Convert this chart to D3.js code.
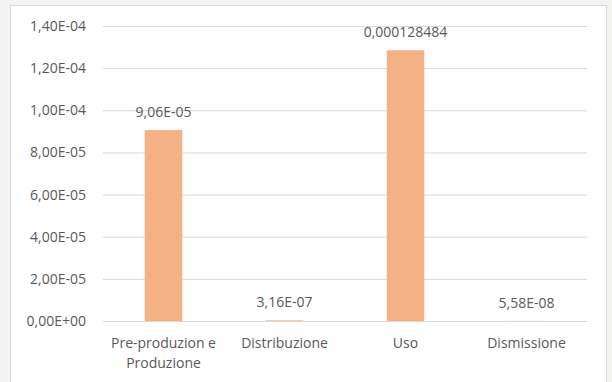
<!DOCTYPE html>
<html>
<head>
<meta charset="utf-8">
<script src="https://cdn.jsdelivr.net/npm/d3@7"></script>
<style>
  html, body { margin: 0; padding: 0; background: #f4f4f2; }
  svg { display: block; }
</style>
</head>
<body>
<svg id="chart" width="612" height="382"></svg>
<script>
// Phases of the life cycle and their values
const categories = [["Pre-produzion e", "Produzione"], ["Distribuzione"], ["Uso"], ["Dismissione"]];
const values = [9.06e-5, 3.16e-7, 0.000128484, 5.58e-8];
const valueLabels = ["9,06E-05", "3,16E-07", "0,000128484", "5,58E-08"];
const yTicks = [0, 2e-5, 4e-5, 6e-5, 8e-5, 1e-4, 1.2e-4, 1.4e-4];

const svg = d3.select("#chart");
const font = "'Open Sans', sans-serif";
const textColor = "#595959";

// chart frame
svg.append("rect")
  .attr("x", 10.5).attr("y", 5.5)
  .attr("width", 596).attr("height", 390)
  .attr("fill", "#ffffff").attr("stroke", "#d9d9d9");

const plot = { left: 103, right: 587, top: 26, bottom: 321 };

const x = d3.scaleBand()
  .domain(d3.range(categories.length))
  .range([plot.left, plot.right])
  .paddingInner(0.69).paddingOuter(0.345);

const y = d3.scaleLinear().domain([0, 1.4e-4]).range([plot.bottom, plot.top]);

const fmtTick = d => d === 0 ? "0,00E+00" : d3.format(".2e")(d)
  .replace(".", ",")
  .replace(/e([+-])(\d)$/, "e$10$2")
  .replace("e", "E");

// horizontal gridlines and tick labels
const yAxis = d3.axisLeft(y).tickValues(yTicks).tickFormat(fmtTick)
  .tickSize(-(plot.right - plot.left)).tickPadding(17);
const gy = svg.append("g").attr("transform", `translate(${plot.left},0)`).call(yAxis);
gy.select(".domain").remove();
gy.selectAll(".tick line").attr("stroke", "#d9d9d9").attr("stroke-width", 1);
gy.selectAll(".tick text").attr("fill", textColor)
  .style("font-family", font).style("font-size", "14px");

// bars
svg.append("g").selectAll("rect").data(values).join("rect")
  .attr("x", (d, i) => x(i))
  .attr("width", x.bandwidth())
  .attr("y", d => y(d))
  .attr("height", d => y(0) - y(d))
  .attr("fill", "#f4b183");

// value labels above bars
svg.append("g").selectAll("text").data(values).join("text")
  .attr("x", (d, i) => x(i) + x.bandwidth() / 2)
  .attr("y", d => y(d) - 13)
  .attr("text-anchor", "middle")
  .attr("fill", textColor)
  .style("font-family", font).style("font-size", "14px")
  .text((d, i) => valueLabels[i]);

// category labels
const cat = svg.append("g").selectAll("text").data(categories).join("text")
  .attr("x", (d, i) => x(i) + x.bandwidth() / 2)
  .attr("y", 348)
  .attr("text-anchor", "middle")
  .attr("fill", textColor)
  .style("font-family", font).style("font-size", "14px");
cat.selectAll("tspan").data(d => d).join("tspan")
  .attr("x", function () { return d3.select(this.parentNode).attr("x"); })
  .attr("dy", (d, j) => j === 0 ? 0 : 20)
  .text(d => d);
</script>
</body>
</html>
